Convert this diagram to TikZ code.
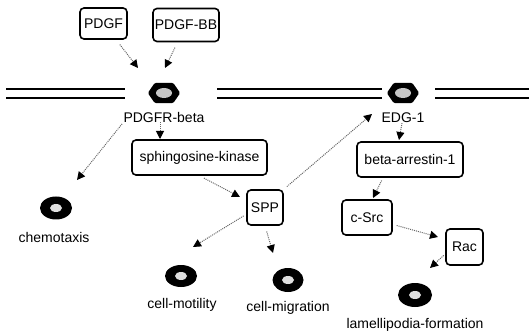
\documentclass[tikz,border=0pt]{standalone}
\usepackage{fontspec}
\setmainfont{Liberation Sans}
\usetikzlibrary{arrows.meta,shapes.misc,shapes.geometric}
\begin{document}
\begin{tikzpicture}[x=1pt,y=-1pt,
  every node/.style={font=\fontsize{14}{16}\selectfont, inner sep=0pt},
  box/.style={draw=black, line width=1.6pt, rounded corners=4pt, fill=white, align=center},
  arr/.style={draw=black!60, densely dotted, line width=1pt, -{Triangle[length=8pt,width=8pt,black]}},
  blob/.style={ellipse, fill=black, path picture={\fill[gray!25] (path picture bounding box.center) ellipse (6pt and 4pt);}},
  recep/.style={rectangle, minimum width=32pt, minimum height=20pt},
  recfill/.style={fill=black, rounded corners=1.5pt},
  memb/.style={line width=1.6pt}
]
\path[use as bounding box] (0,0) rectangle (529,336);

% membrane
\draw[memb] (6,89) -- (125,89) (6,98) -- (125,98);
\draw[memb] (217,89) -- (382,89) (217,98) -- (382,98);
\draw[memb] (435,89) -- (529,89) (435,98) -- (529,98);

% receptors
\node[recep] (pdgfr) at (164,93) {};
\node[recep] (edg) at (403,93) {};
\foreach \r in {pdgfr,edg}{
  \fill[recfill] (\r.west) -- ([xshift=7pt]\r.north west) -- ([xshift=-7pt]\r.north east) -- (\r.east)
     -- ([xshift=-7pt]\r.south east) -- ([xshift=7pt]\r.south west) -- cycle;
  \fill[gray!45] (\r.center) ellipse (8pt and 5pt);
}
\node (lpdgfr) at (164,117) {PDGFR-beta};
\node (ledg) at (403,118) {EDG-1};

% boxes
\node[box, minimum width=47pt, minimum height=31pt] (pdgf) at (103.5,23.5) {PDGF};
\node[box, minimum width=66pt, minimum height=33pt] (pdgfbb) at (186,25) {PDGF-BB};
\node[box, minimum width=135pt, minimum height=35pt] (sk) at (199.5,157.5) {sphingosine-kinase};
\node[box, minimum width=36pt, minimum height=35pt] (spp) at (265,207.5) {SPP};
\node[box, minimum width=106pt, minimum height=35pt] (ba) at (410,159.5) {beta-arrestin-1};
\node[box, minimum width=50pt, minimum height=35pt] (csrc) at (367,217.5) {c-Src};
\node[box, minimum width=37pt, minimum height=36pt] (rac) at (464.5,247) {Rac};

% outcomes
\node[blob, minimum width=32pt, minimum height=23pt] (chemo) at (56,208) {};
\node (lchemo) at (54,237) {chemotaxis};
\node[blob, minimum width=32pt, minimum height=22pt] (mot) at (181,276) {};
\node (lmot) at (182,305) {cell-motility};
\node[blob, minimum width=31pt, minimum height=24pt] (mig) at (288,280) {};
\node (lmig) at (288,308) {cell-migration};
\node[blob, minimum width=34pt, minimum height=24pt] (lam) at (415,295) {};
\node (llam) at (415,325) {lamellipodia-formation};

% arrow tips
\coordinate (t1) at (138,68);
\coordinate (t2) at (165,68);
\coordinate (tchemo) at (77,180);
\coordinate (tsk) at (160,139);
\coordinate (tspp) at (240,197);
\coordinate (tmot) at (193,247);
\coordinate (tmig) at (273,253);
\coordinate (tedg) at (372,114);
\coordinate (tba) at (399,140);
\coordinate (tcs) at (373,198);
\coordinate (trac) at (438,237);
\coordinate (tlam) at (430,268);

% connectors
\draw[arr, shorten <=6pt] (pdgf) -- (t1);
\draw[arr, shorten <=6pt] (pdgfbb) -- (t2);
\draw[arr] ([xshift=-4pt]lpdgfr.south) -- (tsk);
\draw[arr, shorten <=2pt] (lpdgfr.south west) -- (tchemo);
\draw[arr, shorten <=5pt] (sk.south) -- (tspp);
\draw[arr, shorten <=3pt] (spp.200) -- (tmot);
\draw[arr, shorten <=6pt] (spp.south) -- (tmig);
\draw[arr, shorten <=4pt] (spp.north east) -- (tedg);
\draw[arr] ([xshift=-1pt]ledg.south) -- (tba);
\draw[arr, shorten <=3pt] ([xshift=-27pt]ba.south) -- (tcs);
\draw[arr, shorten <=4pt] (csrc.-15) -- (trac);
\draw[arr, shorten <=2pt] (rac.200) -- (tlam);
\end{tikzpicture}
\end{document}
